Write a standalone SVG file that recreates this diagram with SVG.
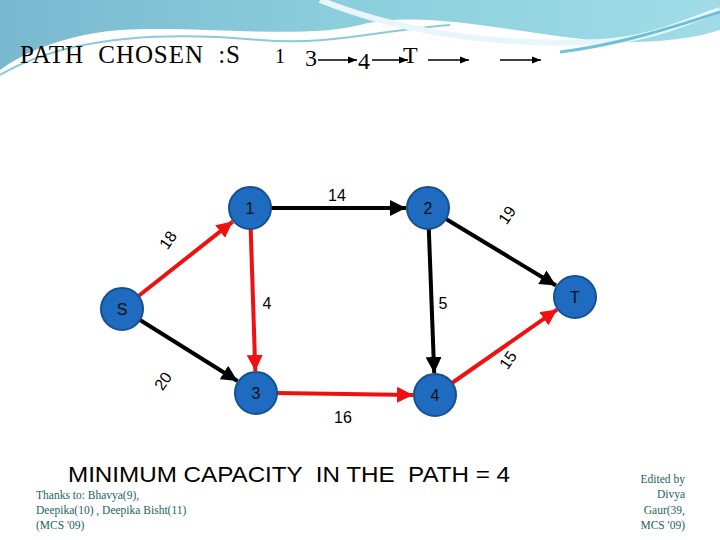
<svg xmlns="http://www.w3.org/2000/svg" width="720" height="540" viewBox="0 0 720 540">
<style>
.node circle{fill:#1f6bbf;stroke:#16508f;stroke-width:2}
.node text{font-family:"Liberation Sans",Arial,sans-serif;font-size:16px;fill:#111;text-anchor:middle;dominant-baseline:central}
.e{stroke-width:4;fill:none}
.r{stroke:#f01010;marker-end:url(#ar)}
.k{stroke:#000;marker-end:url(#ak)}
.lbl{font-family:"Liberation Sans",Arial,sans-serif;font-size:16px;fill:#000;text-anchor:middle;dominant-baseline:central}
.ser{font-family:"Liberation Serif","Times New Roman",serif}
.cr{font-family:"Liberation Serif",serif;font-size:11.5px;fill:#1d5f5f}
</style>
<defs>
<marker id="ar" viewBox="0 0 10 10" refX="10" refY="5" markerWidth="4" markerHeight="4" orient="auto"><path d="M0,0L10,5L0,10z" fill="#f01010"/></marker>
<marker id="ak" viewBox="0 0 10 10" refX="10" refY="5" markerWidth="4" markerHeight="4" orient="auto"><path d="M0,0L10,5L0,10z" fill="#000"/></marker>
<marker id="at" viewBox="0 0 10 10" refX="10" refY="5" markerWidth="6" markerHeight="6" orient="auto"><path d="M0,1L10,5L0,9z" fill="#000"/></marker>
<linearGradient id="bg" x1="0" y1="0" x2="1" y2="0"><stop offset="0" stop-color="#7ab8d0"/><stop offset="0.5" stop-color="#8ccfdc"/><stop offset="1" stop-color="#a0dce8"/></linearGradient>
</defs>
<rect width="720" height="540" fill="#fff"/>
<path d="M0,0H720V30C690,40 640,45 590,40C500,30 420,10 360,25C300,40 200,25 120,30C60,35 20,55 0,70Z" fill="url(#bg)"/>
<path d="M0,75C60,40 150,30 260,40C330,46 380,30 450,25" stroke="#5ab4c4" stroke-width="2" fill="none" opacity="0.7"/>
<path d="M320,0C420,40 520,45 600,42C650,40 690,20 720,10" stroke="#e8f6fa" stroke-width="6" fill="none"/>
<path d="M560,52C620,45 680,25 720,12" stroke="#3aa6c6" stroke-width="3" fill="none" opacity="0.7"/>
<text x="20" y="63" class="ser" font-size="25" fill="#000" textLength="220" lengthAdjust="spacing" xml:space="preserve">PATH  CHOSEN  :S</text>
<text x="275" y="63" class="ser" font-size="20" fill="#000">1</text>
<text x="305" y="66" class="ser" font-size="24" fill="#000">3</text>
<text x="358" y="69" class="ser" font-size="24" fill="#000">4</text>
<text x="403" y="63" class="ser" font-size="24" fill="#000">T</text>
<g stroke="#000" stroke-width="1.5" marker-end="url(#at)">
<line x1="318" y1="60" x2="357" y2="60"/>
<line x1="372" y1="60" x2="408" y2="60"/>
<line x1="428" y1="60" x2="469" y2="60"/>
<line x1="500" y1="60" x2="541" y2="60"/>
</g>
<g id="edges">
<line class="e r" x1="138.5" y1="296" x2="232.7" y2="221.6"/>
<line class="e k" x1="271" y1="208" x2="406" y2="208"/>
<line class="e k" x1="446" y1="219" x2="556" y2="285.5"/>
<line class="e r" x1="250.7" y1="229" x2="255.3" y2="371"/>
<line class="e k" x1="428.8" y1="229" x2="434.2" y2="373"/>
<line class="e k" x1="140" y1="320" x2="237.5" y2="381"/>
<line class="e r" x1="277" y1="393" x2="413" y2="395"/>
<line class="e r" x1="452" y1="383" x2="557" y2="309.6"/>
<text class="lbl" x="337" y="195">14</text>
<text class="lbl" transform="translate(168,240) rotate(-55)">18</text>
<text class="lbl" x="267" y="303">4</text>
<text class="lbl" x="443" y="303">5</text>
<text class="lbl" transform="translate(507,215) rotate(-55)">19</text>
<text class="lbl" transform="translate(508,360) rotate(-55)">15</text>
<text class="lbl" transform="translate(163,381) rotate(-55)">20</text>
<text class="lbl" x="343" y="417">16</text>
</g>
<g id="nS" class="node"><circle cx="122" cy="309" r="21"/><text x="122" y="309">S</text></g>
<g id="n1" class="node"><circle cx="250" cy="208" r="21"/><text x="250" y="208">1</text></g>
<g id="n2" class="node"><circle cx="428" cy="208" r="21"/><text x="428" y="208">2</text></g>
<g id="nT" class="node"><circle cx="575" cy="297" r="21"/><text x="575" y="297">T</text></g>
<g id="n3" class="node"><circle cx="256" cy="393" r="21"/><text x="256" y="393">3</text></g>
<g id="n4" class="node"><circle cx="435" cy="395" r="21"/><text x="435" y="395">4</text></g>
<text x="68" y="482" font-family="Liberation Sans,Arial,sans-serif" font-size="22" fill="#000" textLength="442" lengthAdjust="spacingAndGlyphs" xml:space="preserve">MINIMUM CAPACITY  IN THE  PATH = 4</text>
<text class="cr" x="36" y="499">Thanks to: Bhavya(9),</text>
<text class="cr" x="36" y="514">Deepika(10) , Deepika Bisht(11)</text>
<text class="cr" x="36" y="529">(MCS '09)</text>
<g class="cr" text-anchor="end">
<text x="685" y="483">Edited by</text>
<text x="685" y="498">Divya</text>
<text x="685" y="514">Gaur(39,</text>
<text x="685" y="529">MCS '09)</text>
</g>
</svg>
